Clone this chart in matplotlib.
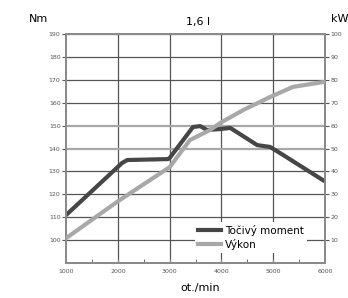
"""Torque / power curve for the 1,6 l engine."""
import numpy as np
import matplotlib
matplotlib.use("Agg")
import matplotlib.pyplot as plt
from matplotlib.lines import Line2D

# torque curve (Nm, left axis)
rpm_torque = [1000, 2080, 2180, 2970, 3000, 3450, 3590, 3720, 3970, 4170, 4690, 4940, 5190, 5960]
torque_nm = [111, 133.7, 135, 135.4, 135.9, 149.4, 149.8, 148.1, 148.5, 149.0, 141.5, 140.7, 137.2, 126.2]

# power curve (kW, right axis)
rpm_power = [1000, 2000, 3000, 3390, 3780, 3970, 4420, 4940, 5380, 5960]
power_kw = [10.9, 27, 41.9, 53.7, 58.1, 61.1, 66.8, 72.5, 76.9, 79.0]

x_ticks = [1000, 2000, 3000, 4000, 5000, 6000]
nm_ticks = [100, 110, 120, 130, 140, 150, 160, 170, 180, 190]
kw_ticks = [10, 20, 30, 40, 50, 60, 70, 80, 90, 100]
light_rows = [140, 150]

DARK = "#464646"
LIGHT = "#a8a8a8"
GRID = "#555555"

fig = plt.figure(figsize=(3.48, 2.98), dpi=100)
ax = fig.add_axes([0.19, 0.117, 0.744, 0.769])
ax2 = ax.twinx()

ax.set_xlim(1000, 6000)
ax.set_ylim(90, 190)
ax2.set_ylim(0, 100)

# grid
for v in x_ticks[1:-1]:
    ax.axvline(v, color=GRID, lw=0.9, zorder=1)
for v in nm_ticks:
    if v in light_rows:
        ax.axhline(v, color=LIGHT, lw=1.6, zorder=1)
    else:
        ax.axhline(v, color=GRID, lw=0.9, zorder=1)

ax.plot(rpm_torque, torque_nm, color=DARK, lw=3, solid_joinstyle="round", zorder=3)
ax2.plot(rpm_power, power_kw, color=LIGHT, lw=3, solid_joinstyle="round", zorder=3)

for a in (ax, ax2):
    for s in a.spines.values():
        s.set_color("#8a8a8a")
        s.set_linewidth(1.4)
ax.spines["top"].set_color("#c8c8c8")

ax.set_xticks(x_ticks)
ax.set_xticks(np.arange(1500, 6000, 1000), minor=True)
ax.set_yticks(nm_ticks)
ax2.set_yticks(kw_ticks)
ax.tick_params(axis="x", which="major", labelsize=4.5, colors="#8a8a8a",
               labelcolor="#555555", length=3, direction="in", pad=4)
ax.tick_params(axis="x", which="minor", length=3, direction="in", colors="#555555")
ax.tick_params(axis="y", labelsize=4.5, colors="#555555", length=3, pad=1)
ax2.tick_params(axis="y", labelsize=4.5, colors="#555555", length=3, pad=1)

fig.text(0.11, 0.935, "Nm", fontsize=8, ha="center", va="center")
fig.text(0.57, 0.925, "1,6 l", fontsize=8, ha="center", va="center")
fig.text(0.951, 0.935, "kW", fontsize=8, ha="left", va="center")
fig.text(0.575, 0.035, "ot./min", fontsize=8, ha="center", va="center")

handles = [Line2D([], [], color=DARK, lw=3), Line2D([], [], color=LIGHT, lw=3)]
leg = ax2.legend(handles, ["Točivý moment", "Výkon"], loc="lower right",
                 bbox_to_anchor=(0.93, 0.045), frameon=True, fancybox=False,
                 fontsize=7.5, handlelength=2.2, handletextpad=0.4,
                 labelspacing=0.25, borderpad=0.3, borderaxespad=0)
leg.get_frame().set_edgecolor("none")
leg.get_frame().set_facecolor("white")
leg.get_frame().set_alpha(1)

fig.savefig("out.png", dpi=100)
